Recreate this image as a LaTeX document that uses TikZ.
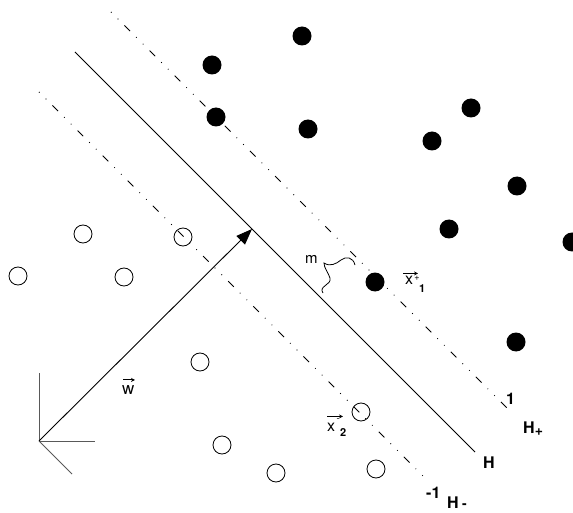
\documentclass[tikz,border=0pt]{standalone}
\usepackage{fontspec}
\setmainfont{TeX Gyre Heros}
\usetikzlibrary{arrows.meta}

\begin{document}
\begin{tikzpicture}[
    x=1pt, y=-1pt,
    posdot/.style={circle, fill=black, minimum size=19pt, inner sep=0pt},
    negdot/.style={circle, draw, line width=0.8pt, minimum size=18pt, inner sep=0pt},
    margin/.style={line width=0.8pt, dash pattern=on 8pt off 8.5pt on 0.8pt off 8.7pt on 0.8pt off 8.7pt, dash phase=16.5pt},
    hyper/.style={line width=0.9pt},
    axis/.style={line width=1pt, black!65},
    arr/.style={-{Triangle[length=16pt, width=12pt]}, line width=0.9pt},
    accent/.style={-{Stealth[length=4pt, width=4pt]}, line width=0.8pt},
    lbl/.style={inner sep=0pt, anchor=base west, font=\fontsize{16}{18}\selectfont},
    hlbl/.style={inner sep=0pt, anchor=base west, font=\fontsize{16}{19}\selectfont\bfseries},
    idx/.style={inner sep=0pt, anchor=base west, font=\fontsize{11}{12}\selectfont\bfseries},
    supl/.style={inner sep=0pt, font=\fontsize{9}{10}\selectfont}
]
    \useasboundingbox (0,0) rectangle (573,513);
    \clip (0,0) rectangle (573,513);

    % Hyperplanes
    \coordinate (hA) at (75,52);
    \coordinate (hB) at (475,452);
    \coordinate (hpA) at (111,12);
    \coordinate (hpB) at (510,411);
    \coordinate (hmA) at (39,92);
    \coordinate (hmB) at (427,480);
    \draw[hyper] (hA) -- (hB);
    \draw[margin] (hpA) -- (hpB);
    \draw[margin] (hmA) -- (hmB);

    % Positive class
    \node[posdot] (p1) at (302,36) {};
    \node[posdot] (p2) at (212,65) {};
    \node[posdot] (p3) at (216,117) {};
    \node[posdot] (p4) at (308,129) {};
    \node[posdot] (p5) at (471,108) {};
    \node[posdot] (p6) at (432,141) {};
    \node[posdot] (p7) at (517,186) {};
    \node[posdot] (p8) at (449,229) {};
    \node[posdot] (p9) at (572,242) {};
    \node[posdot] (p10) at (375,282) {};
    \node[posdot] (p11) at (516,342) {};

    % Negative class
    \node[negdot] (n1) at (83,234) {};
    \node[negdot] (n2) at (183,237) {};
    \node[negdot] (n3) at (18,276) {};
    \node[negdot] (n4) at (124,277) {};
    \node[negdot] (n5) at (200,362) {};
    \node[negdot] (n6) at (361,412) {};
    \node[negdot] (n7) at (222,445) {};
    \node[negdot] (n8) at (276,473) {};
    \node[negdot] (n9) at (376,469) {};

    % Axes and normal vector
    \coordinate (o) at (39,441);
    \coordinate (ax1) at (39,373);
    \coordinate (ax2) at (95,441);
    \coordinate (ax3) at (72,474);
    \coordinate (wtip) at (252,229);
    \draw[axis] (o) -- (ax1);
    \draw[axis] (o) -- (ax2);
    \draw[axis] (o) -- (ax3);
    \draw[arr] (o) -- (wtip);

    % Margin brace
    \draw[line width=0.8pt] (323,293) .. controls (318,286) and (332,285) .. (330,278)
        .. controls (328,272) and (324,268) .. (324,263)
        .. controls (330,267) and (336,264) .. (341,260)
        .. controls (346,256) and (353,257) .. (355,265);

    % Labels
    \node[lbl, font=\fontsize{15}{17}\selectfont] (m) at (305,264) {m};
    \node[lbl] (xone) at (405,284) {x};
    \node[supl] (xonesup) at (417,278) {+};
    \node[idx] (xoneidx) at (419,292) {1};
    \draw[accent] ([xshift=-2pt, yshift=2pt]xone.north west) -- ++(15,0);
    \node[lbl] (xtwo) at (327,431) {x};
    \node[supl] (xtwosup) at (338,420) {-};
    \node[idx] (xtwoidx) at (340,436) {2};
    \draw[accent] ([xshift=0pt, yshift=6pt]xtwo.north west) -- ++(16,0);
    \node[lbl, font=\fontsize{17}{18}\selectfont] (w) at (122,394) {w};
    \draw[accent] ([xshift=1pt, yshift=5pt]w.north west) -- ++(12,0);

    \node[hlbl] (one) at (506,404) {1};
    \node[hlbl] (mone) at (426,498) {-1};
    \node[hlbl] (hlab) at (483,468) {H};
    \node[hlbl] (hplab) at (523,433) {H};
    \node[idx, anchor=center, font=\fontsize{14}{14}\selectfont\bfseries] (hpsub) at (539,432) {+};
    \node[hlbl] (hmlab) at (447,508) {H};
    \node[idx, anchor=center, font=\fontsize{14}{14}\selectfont\bfseries] (hmsub) at (464.5,506) {-};
\end{tikzpicture}
\end{document}
